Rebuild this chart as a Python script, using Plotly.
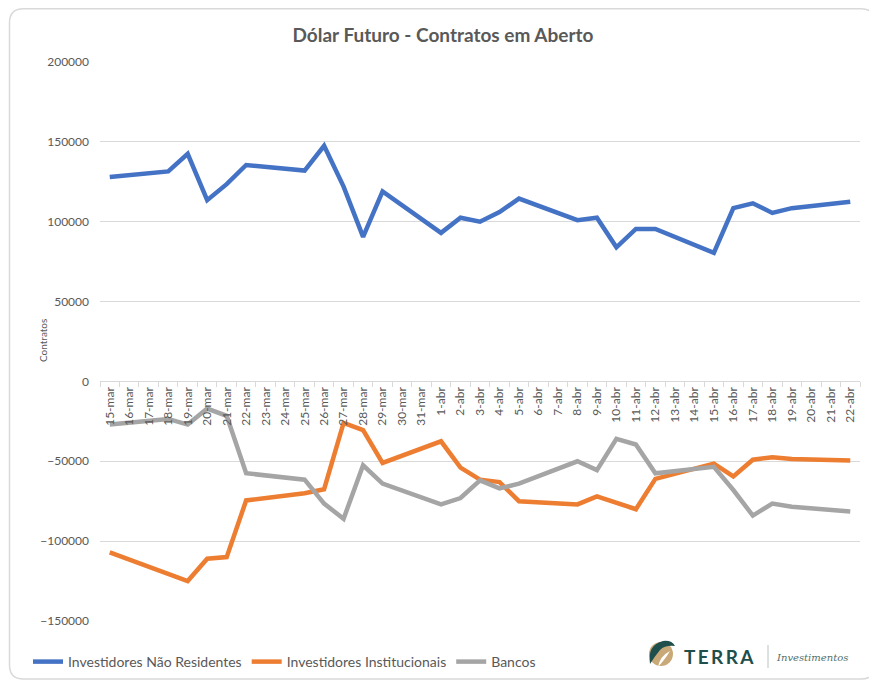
import plotly.graph_objects as go

# ---------------- data ----------------
all_dates = ["15-mar", "16-mar", "17-mar", "18-mar", "19-mar", "20-mar", "21-mar", "22-mar",
             "23-mar", "24-mar", "25-mar", "26-mar", "27-mar", "28-mar", "29-mar", "30-mar",
             "31-mar", "1-abr", "2-abr", "3-abr", "4-abr", "5-abr", "6-abr", "7-abr", "8-abr",
             "9-abr", "10-abr", "11-abr", "12-abr", "13-abr", "14-abr", "15-abr", "16-abr",
             "17-abr", "18-abr", "19-abr", "20-abr", "21-abr", "22-abr"]

trade_days = ["15-mar", "18-mar", "19-mar", "20-mar", "21-mar", "22-mar", "25-mar", "26-mar",
              "27-mar", "28-mar", "29-mar", "1-abr", "2-abr", "3-abr", "4-abr", "5-abr",
              "8-abr", "9-abr", "10-abr", "11-abr", "12-abr", "15-abr", "16-abr", "17-abr",
              "18-abr", "19-abr", "22-abr"]

nao_residentes = [128000, 131500, 142500, 113500, 123500, 135500, 132000, 147500,
                  122000, 90500, 119000, 93000, 102500, 100000, 106000, 114500,
                  101000, 102500, 84000, 95500, 95500, 80500, 108500, 111500,
                  105500, 108500, 112500]

institucionais = [-107000, -121000, -125000, -111000, -110000, -74500, -70000, -67500,
                  -26000, -30500, -51000, -37500, -54000, -61500, -63000, -75000,
                  -77000, -72000, -76000, -80000, -61000, -51500, -59500, -49000,
                  -47500, -48500, -49500]

bancos = [-27000, -23500, -27000, -17000, -21500, -57500, -61500, -76500,
          -86000, -52500, -64000, -77000, -73000, -62000, -67000, -64000,
          -50000, -55500, -36000, -39500, -57500, -53500, -68000, -84000,
          -76500, -78500, -81500]

series_names = ["Investidores Não Residentes", "Investidores Institucionais", "Bancos"]
series_colors = ["#4472C4", "#ED7D31", "#A5A5A5"]

y_min, y_max, y_step = -150000, 200000, 50000

# ---------------- layout helpers ----------------
OFF = 8                      # page body margin offset
W, H = 877 - OFF, 682 - OFF
L, R, T, B = 100 - OFF, 17, 62 - OFF, 61
PW, PH = W - L - R, H - T - B


def px(xp):
    """reference page x pixel -> paper x"""
    return (xp - OFF - L) / PW


def py(yp):
    """reference page y pixel -> paper y"""
    return (H - B - (yp - OFF)) / PH


def cx_(xp):
    """reference page x pixel -> container x"""
    return (xp - OFF) / W


def cy_(yp):
    """reference page y pixel -> container y"""
    return 1 - (yp - OFF) / H


fig = go.Figure()
for name, vals, col in zip(series_names, [nao_residentes, institucionais, bancos], series_colors):
    fig.add_trace(go.Scatter(
        x=trade_days, y=vals, mode="lines", name=name,
        line=dict(color=col, width=4.5),
        hoverinfo="x+y+name",
    ))

shapes = []
# rounded border around chart
x0, y0, x1, y1, r = px(9.5), py(8.8), px(875), py(679), 14
rx, ry = r / PW, r / PH
path = (f"M {x0+rx},{y0} L {x1-rx},{y0} Q {x1},{y0} {x1},{y0-ry} "
        f"L {x1},{y1+ry} Q {x1},{y1} {x1-rx},{y1} "
        f"L {x0+rx},{y1} Q {x0},{y1} {x0},{y1+ry} "
        f"L {x0},{y0-ry} Q {x0},{y0} {x0+rx},{y0} Z")
shapes.append(dict(type="path", xref="paper", yref="paper", path=path,
                   line=dict(color="#d9d9d9", width=1.5), layer="below"))

# logo icon: tan circle + dark green swoosh
cx, cy, cr = 661, 654, 12
shapes.append(dict(type="circle", xref="paper", yref="paper",
                   x0=px(cx - cr), x1=px(cx + cr), y0=py(cy + cr), y1=py(cy - cr),
                   fillcolor="#c9a978", line=dict(width=0)))
sw = (f"M {px(650)},{py(664)} Q {px(647)},{py(645)} {px(663)},{py(641)} "
      f"Q {px(672)},{py(640)} {px(675)},{py(646)} "
      f"Q {px(665)},{py(645)} {px(660)},{py(650)} "
      f"Q {px(655)},{py(656)} {px(650)},{py(664)} Z")
shapes.append(dict(type="path", xref="paper", yref="paper", path=sw,
                   fillcolor="#1f4f4c", line=dict(width=0)))
sw2 = (f"M {px(658)},{py(667)} Q {px(660)},{py(656)} {px(670)},{py(651)} "
       f"Q {px(666)},{py(658)} {px(658)},{py(667)} Z")
shapes.append(dict(type="path", xref="paper", yref="paper", path=sw2,
                   fillcolor="#ffffff", line=dict(width=0)))
# separator line in logo
shapes.append(dict(type="line", xref="paper", yref="paper",
                   x0=px(768), x1=px(768), y0=py(645), y1=py(668),
                   line=dict(color="#b8c4c2", width=1)))

annotations = [
    dict(text="Contratos", xref="paper", yref="paper", x=px(35), y=py(341),
         textangle=-90, showarrow=False, font=dict(family="Lato", size=10, color="#595959")),
    dict(text="<b>T\u2009E\u2009R\u2009R\u2009A</b>", xref="paper", yref="paper",
         x=px(682), y=py(656), xanchor="left", yanchor="middle", showarrow=False,
         font=dict(family="Lato", size=19, color="#1f4f4c")),
    dict(text="<i>Investimentos</i>", xref="paper", yref="paper",
         x=px(774), y=py(657), xanchor="left", yanchor="middle", showarrow=False,
         font=dict(family="DejaVu Serif", size=10, color="#4f6f6c")),
]

fig.update_layout(
    width=W, height=H,
    margin=dict(l=L, r=R, t=T, b=B, autoexpand=False),
    paper_bgcolor="white", plot_bgcolor="white",
    title=dict(text="<b>Dólar Futuro - Contratos em Aberto</b>", x=(443 - OFF) / W, xanchor="center",
               y=1 - (35 - OFF) / H, yanchor="middle", yref="container",
               font=dict(family="Lato", size=19, color="#595959")),
    font=dict(family="Lato", color="#595959"),
    showlegend=True,
    legend=dict(orientation="h", xref="container", yref="container",
                x=cx_(28), xanchor="left", y=cy_(662), yanchor="middle",
                font=dict(family="Lato", size=14, color="#595959"),
                bgcolor="rgba(0,0,0,0)", itemwidth=30, tracegroupgap=0),
    xaxis=dict(type="category", categoryorder="array", categoryarray=all_dates,
               range=[-0.5, len(all_dates) - 0.5], anchor="free",
               position=(0 - y_min) / (y_max - y_min),
               showline=True, linecolor="#d9d9d9", linewidth=1,
               ticks="outside", tickson="boundaries", ticklen=5, tickcolor="#d9d9d9",
               tickangle=-90, tickfont=dict(family="Lato", size=12, color="#595959"),
               showgrid=False, zeroline=False, fixedrange=True, automargin=False),
    yaxis=dict(range=[y_min, y_max], dtick=y_step, tick0=0, tickformat="d",
               showgrid=True, gridcolor="#d9d9d9", gridwidth=1,
               zeroline=False, showline=False, ticks="",
               ticklabelstandoff=10, automargin=False,
               tickfont=dict(family="Lato", size=12, color="#595959")),
    shapes=shapes,
    annotations=annotations,
)

fig.write_html("out.html")
